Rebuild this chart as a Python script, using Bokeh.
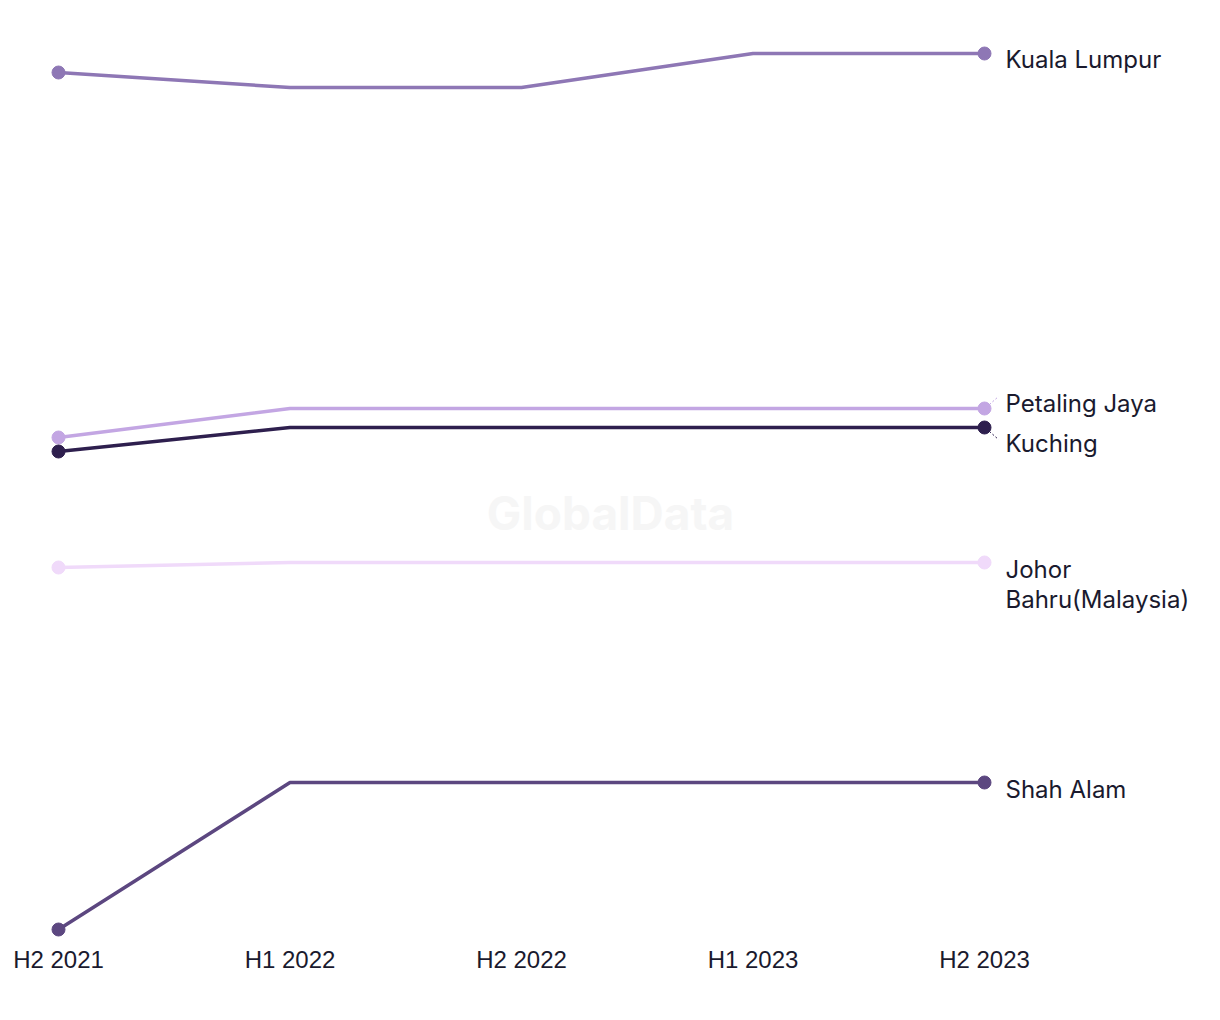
from bokeh.plotting import figure
from bokeh.models import FixedTicker, Range1d
from bokeh.embed import file_html
from bokeh.resources import INLINE
from bokeh.core.properties import value

periods = ["H2 2021", "H1 2022", "H2 2022", "H1 2023", "H2 2023"]
cities = ["Kuala Lumpur", "Petaling Jaya", "Kuching", "Johor Bahru(Malaysia)", "Shah Alam"]
kuala_lumpur = [928, 913, 913, 947, 947]
petaling_jaya = [563, 592, 592, 592, 592]
kuching = [549, 573, 573, 573, 573]
johor_bahru = [433, 438, 438, 438, 438]
shah_alam = [71, 218, 218, 218, 218]
series = [kuala_lumpur, petaling_jaya, kuching, johor_bahru, shah_alam]
colors = ["#8e77b5", "#c3a6e3", "#2e1f4e", "#f0dafa", "#5c4780"]
label_offsets = [-6, 5, -16, -7, -7]
label_lines = [["Kuala Lumpur"], ["Petaling Jaya"], ["Kuching"], ["Johor", "Bahru(Malaysia)"], ["Shah Alam"]]

x = list(range(len(periods)))
px_per_unit = 231.5
x0 = -58 / px_per_unit
x1 = x0 + 1220 / px_per_unit

p = figure(frame_width=1220, frame_height=945, output_backend="svg", toolbar_location=None,
           x_range=Range1d(x0, x1), y_range=Range1d(55, 1000),
           min_border_left=0, min_border_right=0, min_border_top=0, min_border_bottom=0)
p.outline_line_color = None
p.grid.visible = False
p.yaxis.visible = False
p.background_fill_color = "white"
p.border_fill_color = "white"

xa = p.xaxis[0]
xa.ticker = FixedTicker(ticks=x)
xa.major_label_overrides = {i: s for i, s in enumerate(periods)}
xa.axis_line_color = None
xa.major_tick_line_color = None
xa.minor_tick_line_color = None
xa.major_tick_out = 0
xa.major_tick_in = 0
xa.major_label_text_font = "Liberation Sans"
xa.major_label_text_font_size = "24px"
xa.major_label_text_color = "#1a1a2e"
xa.major_label_standoff = 0

# watermark
p.text(x=[(610 - 58) / px_per_unit], y=[1000 - 512],
       text=["GlobalData"], text_align="center", text_baseline="middle",
       text_font=value("Inter"), text_font_style="bold", text_font_size="46px", text_color="#f6f6f6")

for vals, col, off, lines in zip(series, colors, label_offsets, label_lines):
    p.line(x, vals, line_color=col, line_width=3.5)
    p.scatter([x[0], x[-1]], [vals[0], vals[-1]], size=13, fill_color=col, line_color=col)
    ly = vals[-1] + off
    for k, t in enumerate(lines):
        p.text(x=[x[-1] + 21 / px_per_unit], y=[ly - k * 30], text=[t], text_baseline="middle",
               text_font=value("Inter"), text_font_size="24px", text_color="#1a1a2e")

# small dotted leaders for the nudged labels
p.segment(x0=[x[-1] + 5 / px_per_unit], y0=[petaling_jaya[-1] + 4], x1=[x[-1] + 14 / px_per_unit],
          y1=[petaling_jaya[-1] + 12], line_color=colors[1], line_width=1, line_dash="2 2")
p.segment(x0=[x[-1] + 5 / px_per_unit], y0=[kuching[-1] - 4], x1=[x[-1] + 14 / px_per_unit],
          y1=[kuching[-1] - 12], line_color=colors[2], line_width=1, line_dash="2 2")

open("out.html", "w").write(file_html(p, INLINE))
